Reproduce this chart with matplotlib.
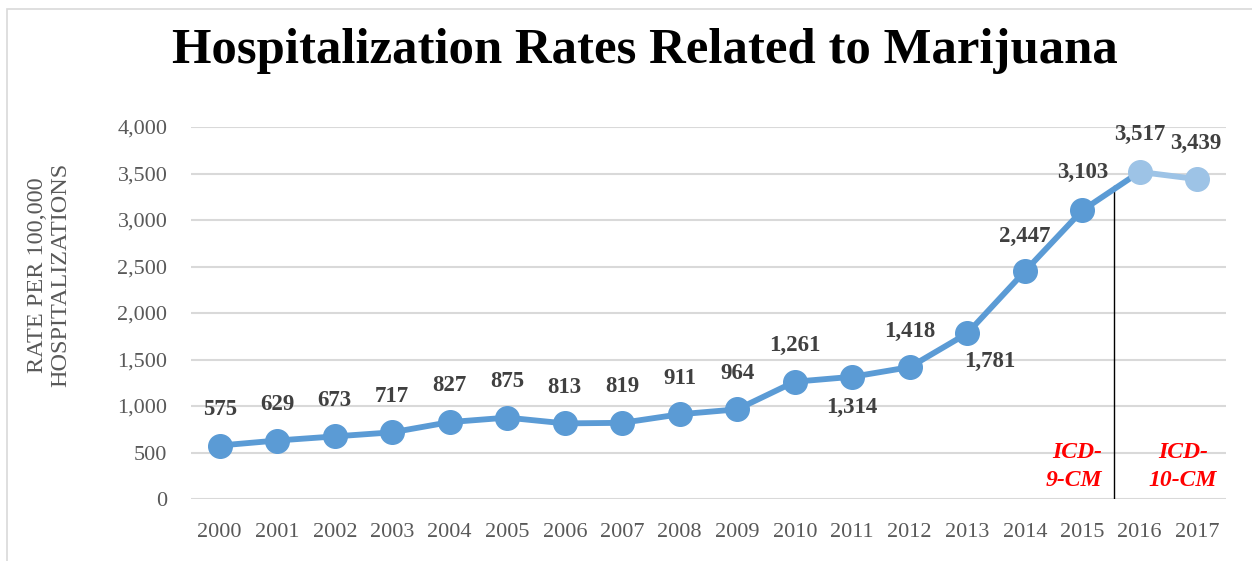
import matplotlib
matplotlib.use("Agg")
import matplotlib.pyplot as plt
from matplotlib.patches import Rectangle

years = ["2000", "2001", "2002", "2003", "2004", "2005", "2006", "2007", "2008",
         "2009", "2010", "2011", "2012", "2013", "2014", "2015", "2016", "2017"]
rates = [575, 629, 673, 717, 827, 875, 813, 819, 911, 964, 1261, 1314, 1418,
         1781, 2447, 3103, 3517, 3439]
yticks = [0, 500, 1000, 1500, 2000, 2500, 3000, 3500, 4000]
# label offsets in points (dx, dy)
label_offsets = [(0, 26)] * 10 + [(0, 26), (0, -22), (0, 26), (16, -20),
                                  (0, 25), (0, 27), (0, 27), (-1, 26)]
n_dark = 16  # 2000..2015 drawn in darker blue

dark = "#5B9BD5"
light = "#9DC3E6"
serif = ["Liberation Serif", "DejaVu Serif"]
plt.rcParams["font.family"] = serif

fig = plt.figure(figsize=(12.52, 5.61), dpi=100)
fig.patches.append(Rectangle((7 / 1252, -0.1), 2, 1.1 - 9 / 561, transform=fig.transFigure,
                             fill=False, edgecolor="#D9D9D9", lw=1.2))
ax = fig.add_axes([191 / 1252, 1 - 499 / 561, (1226 - 191) / 1252, (499 - 127) / 561])

x = list(range(len(years)))
ax.plot(x[:n_dark], rates[:n_dark], color=dark, lw=4.2, solid_capstyle="round", zorder=3)
ax.plot(x[n_dark - 1:n_dark + 1], rates[n_dark - 1:n_dark + 1], color=dark, lw=4.2, zorder=3)
ax.plot(x[n_dark:], rates[n_dark:], color=light, lw=4.2, zorder=3)
ax.plot(x[:n_dark], rates[:n_dark], "o", ms=17, color=dark, zorder=4)
ax.plot(x[n_dark:], rates[n_dark:], "o", ms=17, color=light, zorder=4)

for xi, v, (dx, dy) in zip(x, rates, label_offsets):
    ax.annotate(f"{v:,}", (xi, v), xytext=(dx, dy), textcoords="offset points",
                ha="center", va="center", fontsize=16.5, fontweight="bold", color="#404040")

ax.set_xlim(-0.5, len(years) - 0.5)
ax.set_ylim(0, 4000)
ax.set_yticks(yticks)
ax.set_yticklabels([f"{t:,}" for t in yticks])
ax.set_xticks(x)
ax.set_xticklabels(years)
ax.tick_params(axis="both", length=0, labelsize=16, labelcolor="#595959")
ax.tick_params(axis="y", pad=17)
ax.tick_params(axis="x", pad=17)
ax.grid(axis="y", color="#D9D9D9", lw=1.5)
ax.set_axisbelow(True)
for s in ax.spines.values():
    s.set_visible(False)

# separator between ICD-9 and ICD-10
ax.plot([15.56, 15.56], [0, 3366], color="black", lw=1, zorder=2)
ax.text(15.35, 350, "ICD-\n9-CM", ha="right", va="center", color="red",
        fontsize=17, fontstyle="italic", fontweight="bold", linespacing=1.4)
ax.text(16.75, 350, "ICD-\n10-CM", ha="center", va="center", color="red",
        fontsize=17, fontstyle="italic", fontweight="bold", linespacing=1.4)

fig.text(49 / 1252, 286 / 561, "RATE PER 100,000\nHOSPITALIZATIONS", rotation=90,
         ha="center", va="center", fontsize=17.5, color="#595959", linespacing=1.15)

fig.text(645 / 1252, 1 - 51 / 561, "Hospitalization Rates Related to Marijuana",
         ha="center", va="center", fontsize=36.5, fontweight="bold", color="black")

fig.savefig("out.png", dpi=100)
